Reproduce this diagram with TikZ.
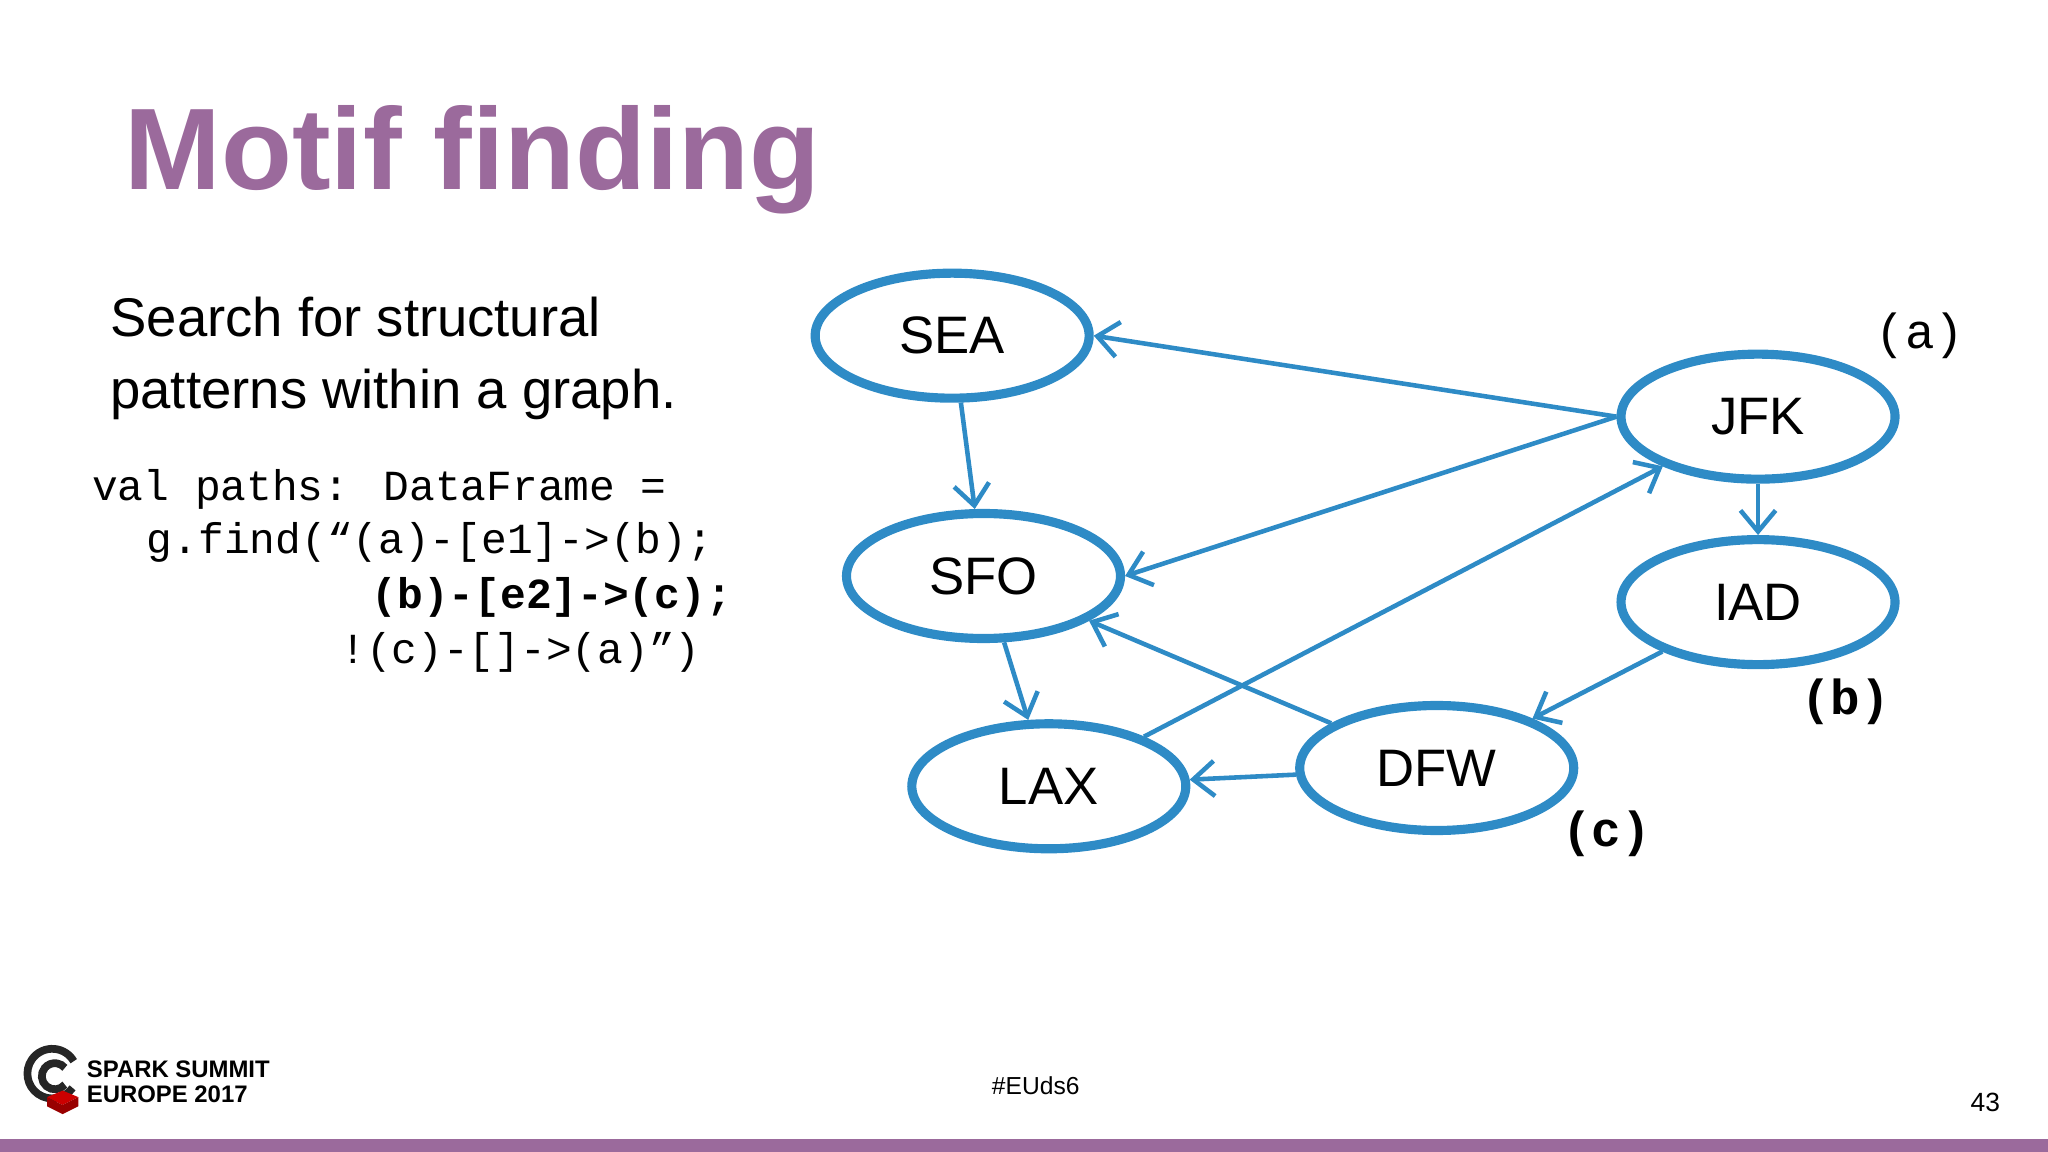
\documentclass[tikz,border=0pt]{standalone}
\usepackage{fontspec}
\setmainfont{Liberation Sans}
\newfontfamily\codefont{Liberation Mono}
\usetikzlibrary{shapes.geometric,arrows.meta}
\definecolor{titlePurple}{HTML}{9B6A9C}
\definecolor{graphBlue}{HTML}{2E8BC6}
\tikzset{
  airport/.style={ellipse,draw=graphBlue,line width=2.6pt,minimum width=2.74cm,minimum height=1.25cm,font=\fontsize{15}{18}\selectfont},
  flight/.style={graphBlue,line width=1.3pt,-{Straight Barb[length=6pt,width=10pt]}},
  codeline/.style={anchor=base west,font=\codefont\fontsize{12.2}{15}\selectfont},
  tag/.style={anchor=center,font=\codefont\fontsize{14}{16}\selectfont}
}
\begin{document}
\begin{tikzpicture}[x=0.01306cm,y=-0.01306cm]
\useasboundingbox (0,0) rectangle (1568,882);
\fill[titlePurple] (0,872) rectangle (1568,882);
\node[anchor=base west,inner sep=0,text=titlePurple,font=\bfseries\fontsize{33}{38}\selectfont] (title) at (95,145) {Motif finding};
\node[anchor=base west,inner sep=0,align=left,font=\fontsize{15.5}{20.5}\selectfont] (intro) at (84,313) {Search for structural\\patterns within a graph.};
\node[codeline,inner sep=0] (c1) at (70,383) {val paths: DataFrame =};
\node[codeline,inner sep=0] (c2) at (112,424) {g.find(“(a)-[e1]->(b);};
\node[codeline,inner sep=0] (c3) at (284,466) {\bfseries(b)-[e2]->(c);};
\node[codeline,inner sep=0] (c4) at (260,508) {!(c)-[]->(a)”)};
% airports
\node[airport] (SEA) at (729,257) {SEA};
\node[airport] (JFK) at (1346,319) {JFK};
\node[airport] (SFO) at (753,441) {SFO};
\node[airport] (IAD) at (1346,461) {IAD};
\node[airport] (LAX) at (803,602) {LAX};
\node[airport] (DFW) at (1100,588) {DFW};
\node[tag] (ta) at (1470,257) {(a)};
\node[tag,font=\codefont\bfseries\fontsize{14}{16}\selectfont] (tb) at (1413,537) {(b)};
\node[tag,font=\codefont\bfseries\fontsize{14}{16}\selectfont] (tc) at (1230,638) {(c)};
% flights
\draw[flight] (JFK.west) -- (SEA.east);
\draw[flight] (SEA) -- (SFO);
\draw[flight] (JFK.west) -- (SFO.east);
\draw[flight] (LAX) -- (JFK);
\draw[flight] (JFK) -- (IAD);
\draw[flight] (IAD) -- (DFW);
\draw[flight] (DFW) -- (SFO);
\draw[flight] (SFO) -- (LAX);
\draw[flight] (DFW) -- (LAX);
% footer
\draw[black!85,line width=2.2pt] ([shift={(35:19)}]40,822) arc (35:330:19);
\draw[black!85,line width=2.2pt] ([shift={(40:10)}]42,824) arc (40:320:10);
\fill[red!80!black] (36,840) -- (48,835) -- (60,840) -- (48,846) -- cycle;
\fill[red!60!black] (36,840) -- (48,846) -- (60,840) -- (60,847) -- (48,853) -- (36,847) -- cycle;
\node[anchor=west,inner sep=0,align=left,font=\bfseries\fontsize{6.8}{7.2}\selectfont] (logo) at (66,828) {SPARK SUMMIT\\EUROPE 2017};
\node[font=\fontsize{7}{9}\selectfont] (hash) at (793,831) {\#EUds6};
\node[font=\fontsize{7.5}{9}\selectfont] (page) at (1520,844) {43};
\end{tikzpicture}
\end{document}
